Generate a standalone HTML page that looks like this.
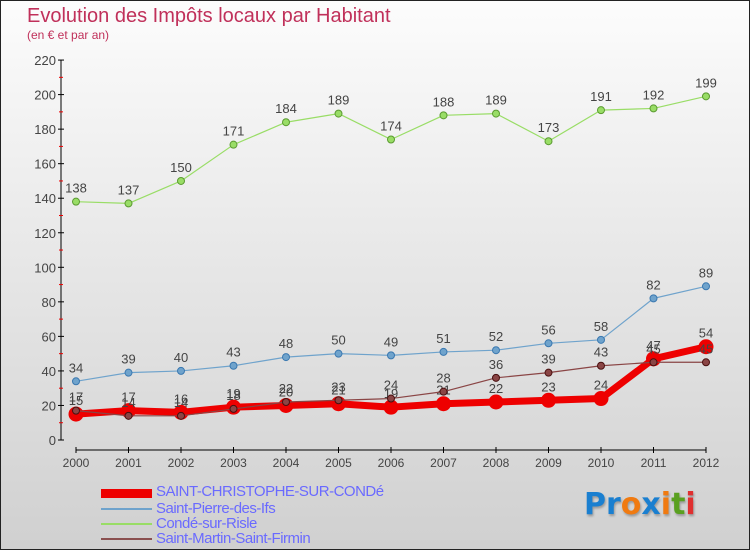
<!DOCTYPE html>
<html><head><meta charset="utf-8"><style>
body{margin:0;width:750px;height:550px;overflow:hidden;font-family:"Liberation Sans",sans-serif}
#wrap{position:relative;width:748px;height:548px;border:1px solid #222;background:linear-gradient(#fcfcfc,#d0d0d0)}
.t{position:absolute;color:#c0305a}
.leg{position:absolute;left:155px;font-size:15px;color:#6a6aff;letter-spacing:-0.5px}
.sw{position:absolute;left:100px;width:51px}
</style></head><body>
<div id="wrap">
<div class="t" style="left:26px;top:4px;font-size:20px">Evolution des Impôts locaux par Habitant</div>
<div class="t" style="left:26px;top:27px;font-size:12px">(en € et par an)</div>
<svg id="c" width="748" height="548" style="position:absolute;left:0;top:0"></svg>
<div class="sw" style="top:488px;height:9px;background:#e00"></div>
<div class="leg" style="top:482px">SAINT-CHRISTOPHE-SUR-CONDé</div>
<div class="sw" style="top:507px;height:2px;background:#6fa3cc"></div>
<div class="leg" style="top:499px">Saint-Pierre-des-Ifs</div>
<div class="sw" style="top:522px;height:2px;background:#99dd66"></div>
<div class="leg" style="top:514px">Condé-sur-Risle</div>
<div class="sw" style="top:537px;height:2px;background:#8a5050"></div>
<div class="leg" style="top:529px">Saint-Martin-Saint-Firmin</div>
<div style="position:absolute;left:583px;top:486px;font-size:30px;font-family:'DejaVu Sans',sans-serif;font-weight:bold;text-shadow:1px 2px 2px #999"><span style="color:#1a7fd0">Pr</span><span style="color:#f07a10">o</span><span style="color:#1a7fd0">x</span><span style="color:#f07a10">i</span><span style="color:#5aa020">t</span><span style="color:#e03030">i</span></div>
</div>
<script>
const years=[2000,2001,2002,2003,2004,2005,2006,2007,2008,2009,2010,2011,2012];
const yTicks=[0,20,40,60,80,100,120,140,160,180,200,220];
const stChristophe=[15,17,16,19,20,21,19,21,22,23,24,47,54];
const stPierre=[34,39,40,43,48,50,49,51,52,56,58,82,89];
const conde=[138,137,150,171,184,189,174,188,189,173,191,192,199];
const stMartin=[17,14,14,18,22,23,24,28,36,39,43,45,45];
const svg=document.getElementById('c');const NS='http://www.w3.org/2000/svg';
const X=i=>75+i*52.5, Y=v=>439-v*1.727;
function mk(t,a){const e=document.createElementNS(NS,t);for(const k in a)e.setAttribute(k,a[k]);svg.appendChild(e);return e;}
let e=mk('line',{x1:60,y1:Y(220),x2:60,y2:Y(0),stroke:'#000'});

e=mk('line',{x1:75,y1:449,x2:705,y2:449,stroke:'#000'});

yTicks.forEach(v=>{mk('line',{x1:57,y1:Y(v),x2:63,y2:Y(v),stroke:'#000'});
 if(v<220){mk('line',{x1:58,y1:Y(v+10),x2:62,y2:Y(v+10),stroke:'#e00'});}
 const t=mk('text',{x:55,y:Y(v)+5,'text-anchor':'end','font-size':13,fill:'#444'});t.textContent=v;
 });
years.forEach((y,i)=>{mk('line',{x1:X(i),y1:446,x2:X(i),y2:452,stroke:'#000'});
 const t=mk('text',{x:X(i),y:466,'text-anchor':'middle','font-size':12,fill:'#444'});t.textContent=y;
 });
function series(d,col,dark,w,r,name){
 const p=mk('polyline',{points:d.map((v,i)=>X(i)+','+Y(v)).join(' '),fill:'none',stroke:col,'stroke-width':w,'stroke-linejoin':'round'});
 
 d.forEach((v,i)=>{const c=mk('circle',{cx:X(i),cy:Y(v),r:r,fill:dark===null?col:col,stroke:dark,'stroke-width':1});
  
  const t=mk('text',{x:X(i),y:Y(v)-9,'text-anchor':'middle','font-size':13,fill:'#444'});t.textContent=v;
  });
}
series(conde,'#99dd66','#5a9a30',1.2,3.5,'conde');
series(stPierre,'#6fa3cc','#3a78b0',1.2,3.5,'saint-pierre');
series(stChristophe,'#ee0000','#ee0000',7,7,'saint-christophe');
series(stMartin,'#8a4545','#4a1010',1.2,3.5,'saint-martin');
</script>
</body></html>
